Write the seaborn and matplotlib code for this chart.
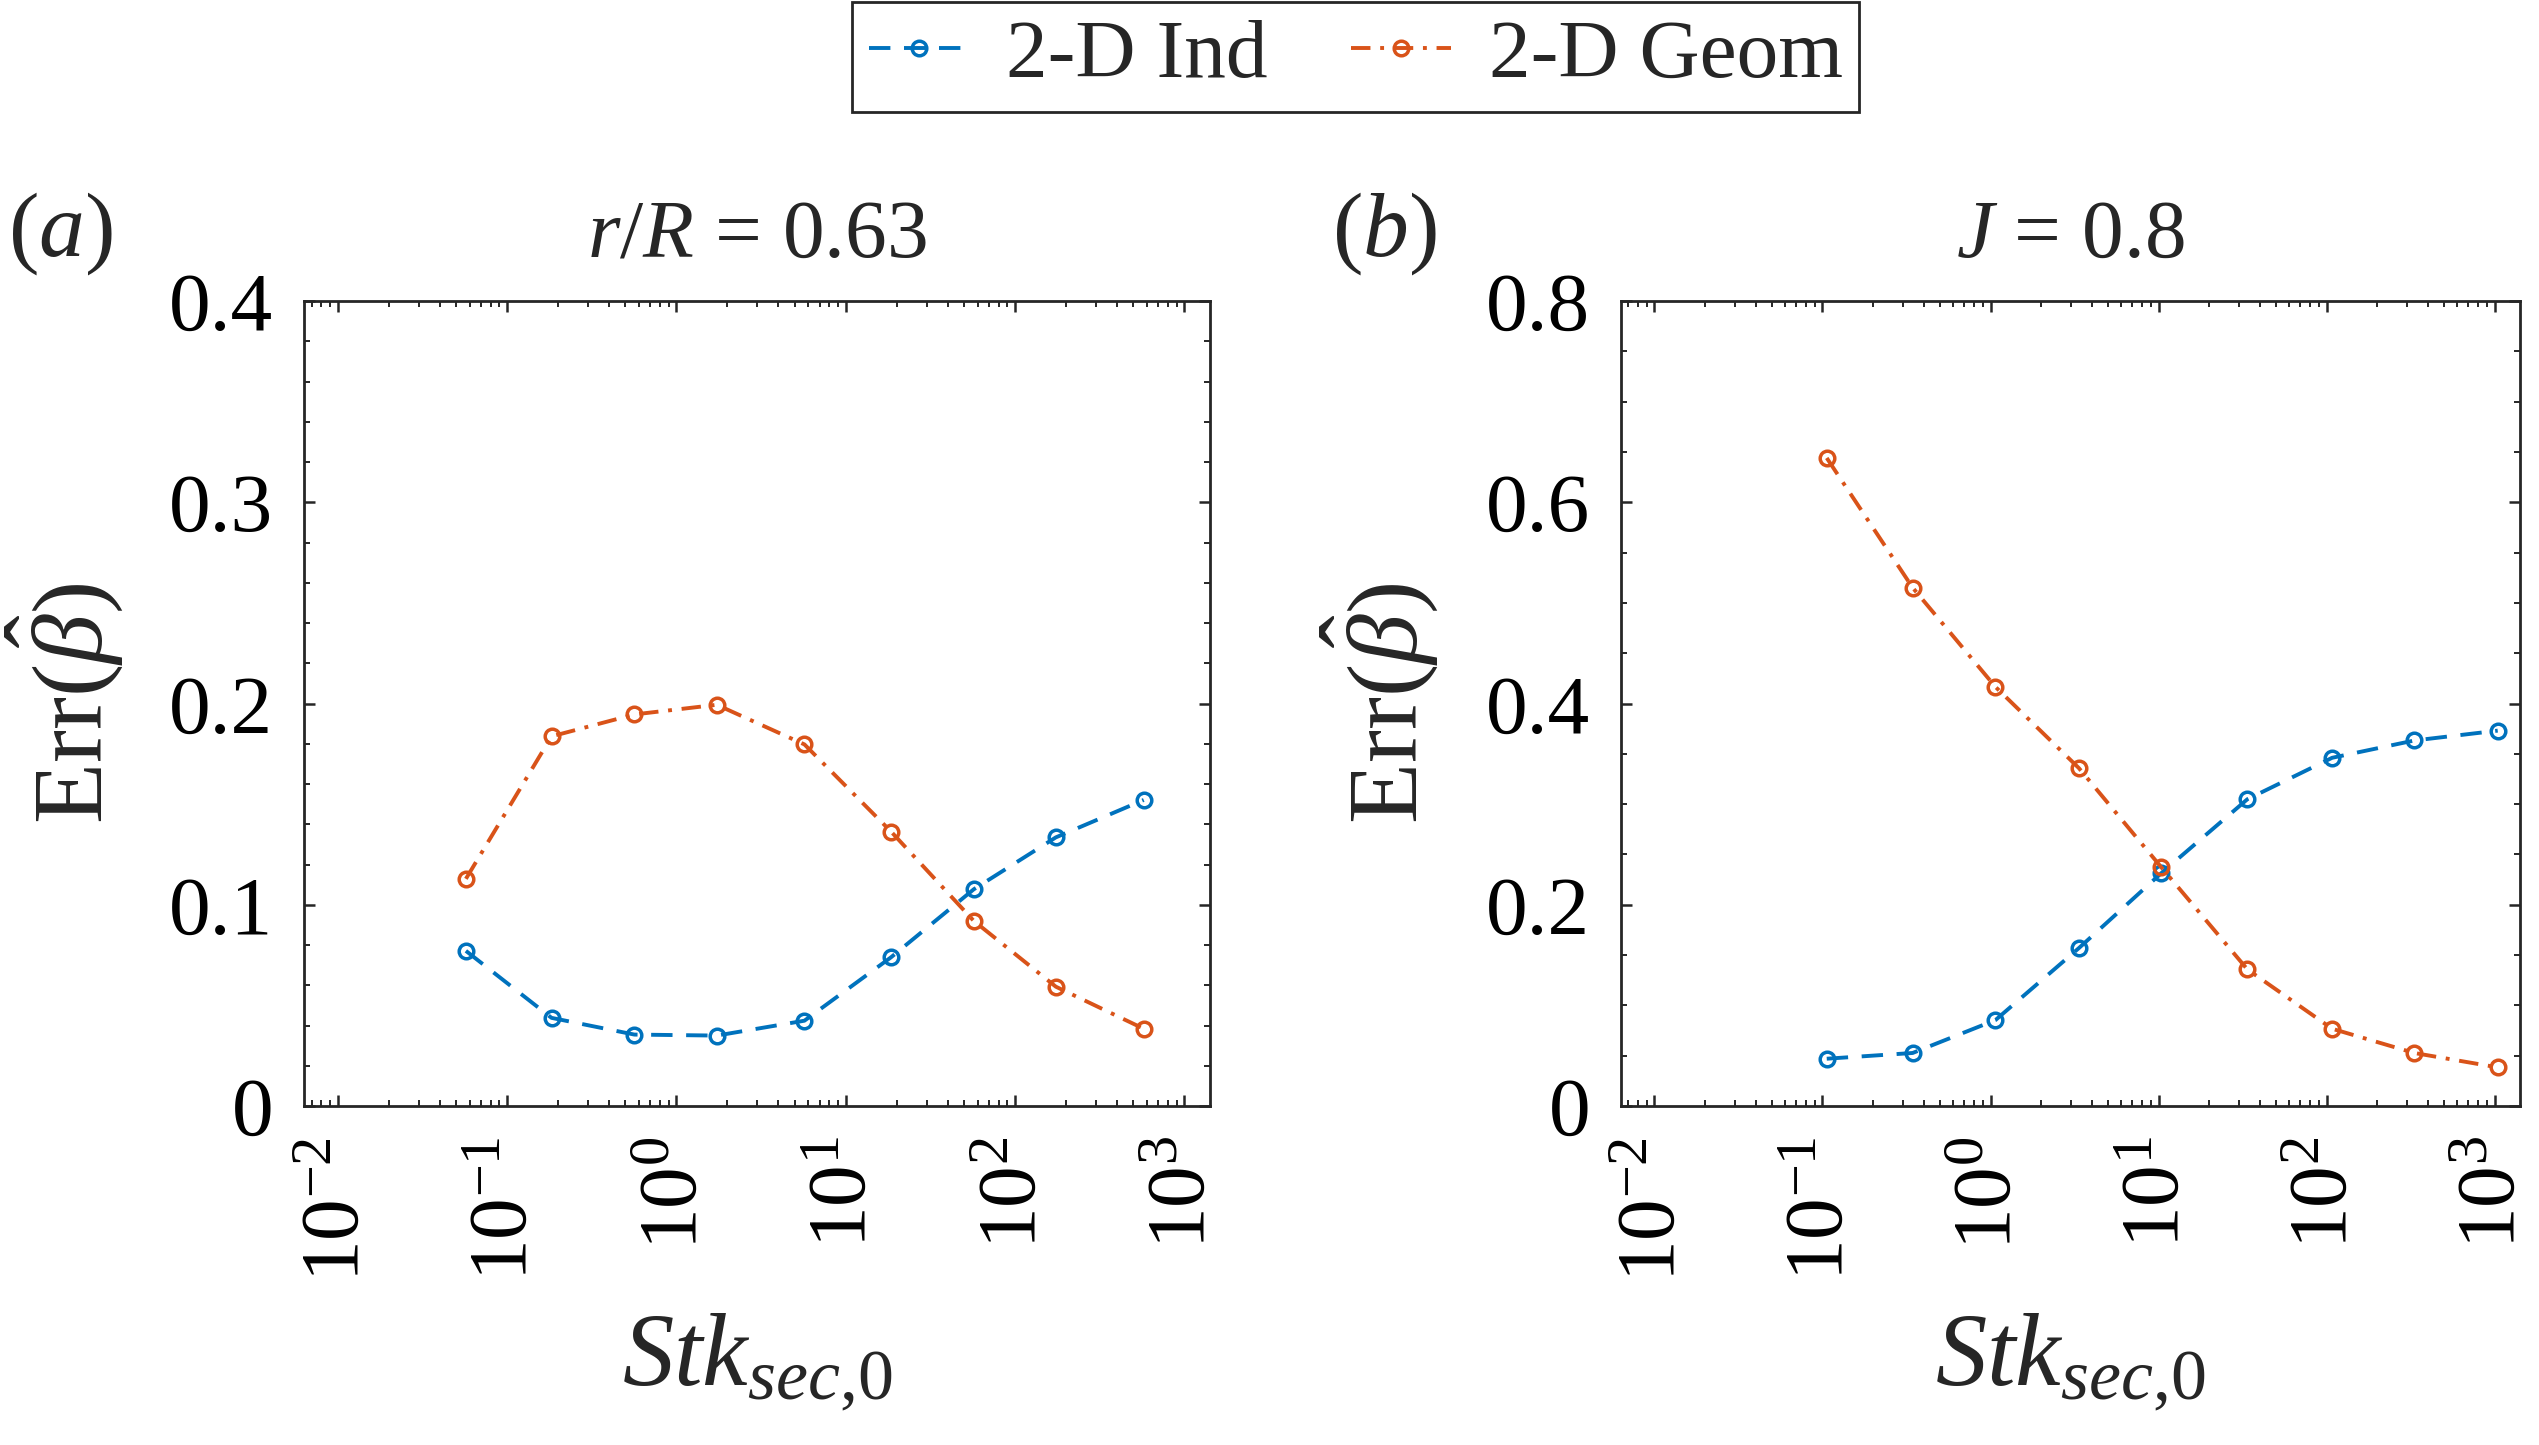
import numpy as np
import pandas as pd
import matplotlib
matplotlib.use('Agg')
import matplotlib.pyplot as plt
import seaborn as sns
from matplotlib.ticker import FixedLocator, FuncFormatter, LogLocator, LogFormatterMathtext, MultipleLocator, NullFormatter

# painel (a): r/R = 0.63
stk_a = [0.0571, 0.183, 0.564, 1.73, 5.70, 18.5, 57.0, 174, 575]
ind_a = [0.0771, 0.0438, 0.0355, 0.0350, 0.0424, 0.0739, 0.1077, 0.1335, 0.1521]
geom_a = [0.1129, 0.1837, 0.1946, 0.1994, 0.1797, 0.1364, 0.0920, 0.0593, 0.0384]

# painel (b): J = 0.8
stk_b = [0.106, 0.344, 1.07, 3.36, 10.4, 33.8, 108, 333, 1045]
ind_b = [0.0470, 0.0527, 0.0854, 0.1570, 0.2315, 0.3049, 0.3461, 0.3633, 0.3731]
geom_b = [0.6441, 0.5152, 0.4166, 0.3358, 0.2372, 0.1358, 0.0768, 0.0527, 0.0384]

nomes = ['2-D Ind', '2-D Geom']
cores = ['#0072BD', '#D95319']
estilos = [(0, (5.5, 3.5)), (0, (5, 2.5, 1, 2.5))]
xticks_maiores = [1e-2, 1e-1, 1e0, 1e1, 1e2, 1e3]

# tema
sns.set_style('ticks')
plt.rcParams['font.family'] = ['Liberation Serif', 'DejaVu Serif']
plt.rcParams['mathtext.fontset'] = 'custom'
plt.rcParams['mathtext.rm'] = 'Liberation Serif'
plt.rcParams['mathtext.it'] = 'Liberation Serif:italic'
plt.rcParams['mathtext.bf'] = 'Liberation Serif:bold'
plt.rcParams['axes.unicode_minus'] = True

fig = plt.figure(figsize=(25.39, 14.45), dpi=100)
ax_a = fig.add_axes([0.1197, 0.2346, 0.3568, 0.557])
ax_b = fig.add_axes([0.6384, 0.2346, 0.354, 0.557])


def desenha(ax, stk, ind, geom, titulo, ymax, ymaior, ymenor, ylab_x):
    for nome, vals, cor, estilo in zip(nomes, [ind, geom], cores, estilos):
        df = pd.DataFrame({'Stk': stk, 'Err': vals})
        sns.lineplot(x='Stk', y='Err', data=df, ax=ax, color=cor, linestyle=estilo,
                     linewidth=2.8, marker='o', markersize=10.5, markerfacecolor='none',
                     markeredgecolor=cor, markeredgewidth=2.5, label=nome, legend=False)

    # eixos
    ax.set_xscale('log')
    ax.set_xlim(10 ** -2.2, 10 ** 3.15)
    ax.set_ylim(0, ymax)
    ax.xaxis.set_major_locator(FixedLocator(xticks_maiores))
    ax.xaxis.set_major_formatter(LogFormatterMathtext())
    ax.xaxis.set_minor_locator(LogLocator(base=10, subs=np.arange(2, 10) * 1.0, numticks=30))
    ax.xaxis.set_minor_formatter(NullFormatter())
    ax.yaxis.set_major_locator(MultipleLocator(ymaior))
    ax.yaxis.set_minor_locator(MultipleLocator(ymenor))
    ax.yaxis.set_major_formatter(FuncFormatter(lambda v, p: '0' if abs(v) < 1e-9 else f'{v:.1f}'))

    ax.tick_params(which='both', direction='in', top=True, right=True, colors='#262626',
                   labelcolor='black')
    ax.tick_params(which='major', length=8, width=1.8, labelsize=60, pad=22)
    ax.tick_params(which='minor', length=4.5, width=1.4)
    ax.tick_params(axis='x', labelrotation=90)
    for sp in ax.spines.values():
        sp.set_visible(True)
        sp.set_color('#262626')
        sp.set_linewidth(2)

    ax.set_xlabel(r'$Stk_{sec{,}0}$', fontsize=74)
    ax.set_ylabel(r'Err$(\hat{\beta})$', fontsize=72)
    ax.xaxis.set_label_coords(0.5, -0.255)
    ax.yaxis.set_label_coords(ylab_x, 0.5)
    ax.set_title(titulo, fontsize=60, pad=32)


desenha(ax_a, stk_a, ind_a, geom_a, r'$r/R$ = 0.63', 0.4, 0.1, 0.02, -0.198)
desenha(ax_b, stk_b, ind_b, geom_b, r'$J$ = 0.8', 0.8, 0.2, 0.05, -0.201)

fig.text(0.0032, 0.8228, r'($a$)', fontsize=66, va='baseline', ha='left')
fig.text(0.5246, 0.8228, r'($b$)', fontsize=66, va='baseline', ha='left')

# legenda
handles, labels = ax_a.get_legend_handles_labels()
leg = fig.legend(handles, labels, loc='upper center', bbox_to_anchor=(0.534, 0.9986), ncol=2,
                 fontsize=60, frameon=True, fancybox=False, framealpha=1, edgecolor='#262626',
                 handlelength=1.2, handletextpad=0.45, columnspacing=1.0, borderpad=0.2,
                 borderaxespad=0)
leg.get_frame().set_linewidth(2)

fig.savefig('out.png', dpi=100)
